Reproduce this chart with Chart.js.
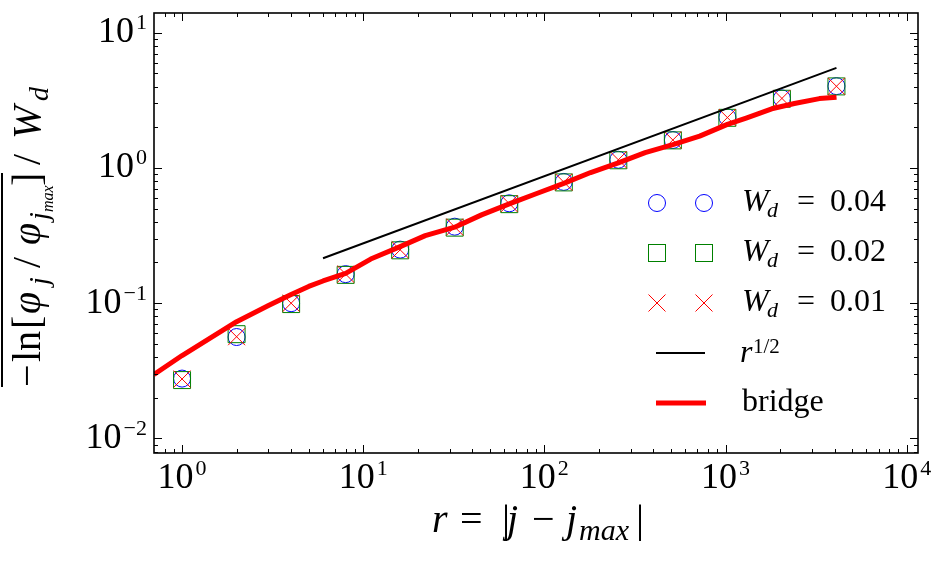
<!DOCTYPE html>
<html>
<head>
<meta charset="utf-8">
<script src="https://cdn.jsdelivr.net/npm/chart.js@4/dist/chart.umd.min.js"></script>
<style>
  html, body { margin: 0; padding: 0; background: #fff; }
  .fontwarm { position: absolute; left: -9999px; top: 0; font-family: 'Liberation Serif'; }
</style>
</head>
<body>
<span class="fontwarm">10 bridge</span><span class="fontwarm" style="font-style:italic">W r j max</span>
<canvas id="chart" width="944" height="561"></canvas>
<script>
/* ===============================
   DATA
================================ */
const rValues = [1, 2, 4, 8, 16, 32, 64, 128, 256, 512, 1024, 2048, 4096];
const wd004 = [0.0277, 0.0562, 0.100, 0.164, 0.249, 0.368, 0.548, 0.789, 1.15, 1.61, 2.37, 3.27, 4.03];
const wd002 = [0.0270, 0.0590, 0.0985, 0.162, 0.246, 0.362, 0.540, 0.782, 1.14, 1.60, 2.35, 3.25, 4.01];
const wd001 = [0.0275, 0.0565, 0.100, 0.164, 0.248, 0.366, 0.545, 0.786, 1.15, 1.61, 2.36, 3.27, 4.02];

const sqrtX = [6, 4096];
const sqrtY = [0.215, 5.5];

const bridgeX = [0.7, 1, 2, 3, 4, 5, 6, 8, 11, 16, 22, 32, 45, 64, 90, 128, 180, 256, 360, 512, 720, 1024, 1300, 1800, 2400, 3300, 4100];
const bridgeY = [0.0297, 0.041, 0.073, 0.096, 0.116, 0.133, 0.146, 0.166, 0.212, 0.262, 0.316, 0.365, 0.45, 0.543, 0.645, 0.77, 0.925, 1.09, 1.30, 1.49, 1.72, 2.10, 2.34, 2.74, 3.0, 3.26, 3.33];

const xTickPowers = [0, 1, 2, 3, 4];
const yTickPowers = [-2, -1, 0, 1];
const legendLabels = ["W_d = 0.04", "W_d = 0.02", "W_d = 0.01", "r^1/2", "bridge"];

const X_MIN = 0.748, X_MAX = 11550;
const Y_MIN = 0.0078, Y_MAX = 14.0;

const FONT = "'Liberation Serif', serif";
const BLUE = "#0000ff", GREEN = "#008000", RED = "#ff0000";

const toPts = (xs, ys) => xs.map((x, i) => ({ x: x, y: ys[i] }));

/* ===============================
   TEXT HELPERS
================================ */
const fontFor = (size, it) => (it ? "italic " : "") + size + "px " + FONT;

// parts placed at fixed offsets: {t, s (size), it, at (x offset), dy}
function drawPlaced(ctx, x0, y0, parts) {
  ctx.textAlign = "left";
  ctx.textBaseline = "alphabetic";
  parts.forEach(p => {
    ctx.font = fontFor(p.s, p.it);
    ctx.fillText(p.t, x0 + p.at, y0 + (p.dy || 0));
  });
}

// "10" with a superscript exponent, aligned on its full width
function drawPow(ctx, n, x, y, align) {
  const main = "10", sup = n < 0 ? "\u2212" + (-n) : String(n);
  ctx.font = fontFor(36, false);
  const w1 = ctx.measureText(main).width;
  ctx.font = fontFor(22, false);
  const w2 = ctx.measureText(sup).width;
  const w = w1 + 2 + w2;
  let x0 = x;
  if (align === "center") x0 = x - w / 2;
  if (align === "right") x0 = x - w;
  drawPlaced(ctx, x0, y, [
    { t: main, s: 36, at: 0 },
    { t: sup, s: 22, at: w1 + 2, dy: -13 }
  ]);
}

/* ===============================
   AXES, TICKS, TITLES, LEGEND
================================ */
const framePlugin = {
  id: "frame",
  afterDraw(chart) {
    const ctx = chart.ctx;
    const a = chart.chartArea;
    const xs = chart.scales.x, ys = chart.scales.y;
    ctx.save();
    ctx.fillStyle = "#000";
    ctx.strokeStyle = "#000";

    // frame
    ctx.lineWidth = 1.6;
    ctx.strokeRect(a.left, a.top, a.right - a.left, a.bottom - a.top);

    // ticks (inward, all four sides)
    ctx.lineWidth = 1;
    const seg = (x1, y1, x2, y2) => {
      ctx.beginPath(); ctx.moveTo(x1, y1); ctx.lineTo(x2, y2); ctx.stroke();
    };
    for (let p = -1; p <= 4; p++) {
      for (let m = 1; m <= 9; m++) {
        const v = m * Math.pow(10, p);
        if (v < X_MIN || v > X_MAX) continue;
        const px = Math.round(xs.getPixelForValue(v)) + 0.5;
        const len = m === 1 ? 8 : 4;
        seg(px, a.bottom, px, a.bottom - len);
        seg(px, a.top, px, a.top + len);
      }
    }
    for (let p = -3; p <= 1; p++) {
      for (let m = 1; m <= 9; m++) {
        const v = m * Math.pow(10, p);
        if (v < Y_MIN || v > Y_MAX) continue;
        const py = Math.round(ys.getPixelForValue(v)) + 0.5;
        const len = m === 1 ? 8 : 4;
        seg(a.left, py, a.left + len, py);
        seg(a.right, py, a.right - len, py);
      }
    }

    // tick labels
    xTickPowers.forEach(n => drawPow(ctx, n, xs.getPixelForValue(Math.pow(10, n)), 488, "center"));
    yTickPowers.forEach(n => drawPow(ctx, n, a.left - 7, ys.getPixelForValue(Math.pow(10, n)) + 9.5, "right"));

    // x title: r = |j - j_max|
    drawPlaced(ctx, 432, 532, [
      { t: "r", s: 40, it: true, at: 0 },
      { t: "=", s: 40, at: 28 },
      { t: "|", s: 40, at: 70 },
      { t: "j", s: 40, it: true, at: 75 },
      { t: "\u2212", s: 40, at: 100 },
      { t: "j", s: 40, it: true, at: 134 },
      { t: "max", s: 30, it: true, at: 147, dy: 8 },
      { t: "|", s: 40, at: 204 }
    ]);

    // y title (rotated, overline on the first group)
    ctx.save();
    ctx.translate(40, 387);
    ctx.rotate(-Math.PI / 2);
    drawPlaced(ctx, 0, 0, [
      { t: "\u2212", s: 40, at: 0 },
      { t: "ln", s: 40, at: 25 },
      { t: "[", s: 40, at: 58 },
      { t: "\u03c6", s: 40, it: true, at: 73 },
      { t: "j", s: 28, it: true, at: 102, dy: 8 },
      { t: "/", s: 40, at: 119 },
      { t: "\u03c6", s: 40, it: true, at: 142 },
      { t: "j", s: 28, it: true, at: 167, dy: 8 },
      { t: "max", s: 16, it: true, at: 175, dy: 13 },
      { t: "]", s: 40, at: 201 },
      { t: "/", s: 40, at: 222 },
      { t: "W", s: 40, it: true, at: 248 },
      { t: "d", s: 28, it: true, at: 286, dy: 8 }
    ]);
    ctx.lineWidth = 2;
    seg(0, -38, 214, -38);
    ctx.restore();

    // legend
    const lx1 = 657, lx2 = 704;
    const rowY = [203, 253, 303, 353, 403];
    ctx.lineWidth = 1;
    ctx.strokeStyle = BLUE;
    [lx1, lx2].forEach(x => { ctx.beginPath(); ctx.arc(x, rowY[0], 8.5, 0, 2 * Math.PI); ctx.stroke(); });
    ctx.strokeStyle = GREEN;
    [lx1, lx2].forEach(x => ctx.strokeRect(x - 8.5, rowY[1] - 8.5, 17, 17));
    ctx.strokeStyle = RED;
    [lx1, lx2].forEach(x => {
      seg(x - 8.5, rowY[2] - 8.5, x + 8.5, rowY[2] + 8.5);
      seg(x - 8.5, rowY[2] + 8.5, x + 8.5, rowY[2] - 8.5);
    });
    ctx.strokeStyle = "#000"; ctx.lineWidth = 2;
    seg(656, rowY[3], 705, rowY[3]);
    ctx.strokeStyle = RED; ctx.lineWidth = 5;
    seg(656, rowY[4], 706, rowY[4]);

    ctx.fillStyle = "#000";
    ["0.04", "0.02", "0.01"].forEach((v, i) => {
      drawPlaced(ctx, 742, rowY[i] + 8, [
        { t: "W", s: 32, it: true, at: 0 },
        { t: "d", s: 22, it: true, at: 25, dy: 6 },
        { t: "=", s: 32, at: 55 },
        { t: v, s: 32, at: 88 }
      ]);
    });
    drawPlaced(ctx, 740, 362, [
      { t: "r", s: 32, it: true, at: 0 },
      { t: "1/2", s: 21, at: 13, dy: -9 }
    ]);
    drawPlaced(ctx, 742, 411, [{ t: "bridge", s: 32, at: 0 }]);

    ctx.restore();
  }
};

/* ===============================
   CHART
================================ */
function buildChart() {
  new Chart(document.getElementById("chart"), {
    type: "scatter",
    data: {
      datasets: [
        {
          label: legendLabels[0],
          data: toPts(rValues, wd004),
          pointStyle: "circle", pointRadius: 8.5, pointBorderWidth: 1,
          pointBorderColor: BLUE, pointBackgroundColor: "rgba(0,0,0,0)",
          order: 5
        },
        {
          label: legendLabels[1],
          data: toPts(rValues, wd002),
          pointStyle: "rect", pointRadius: 12, pointBorderWidth: 1,
          pointBorderColor: GREEN, pointBackgroundColor: "rgba(0,0,0,0)",
          order: 4
        },
        {
          label: legendLabels[2],
          data: toPts(rValues, wd001),
          pointStyle: "crossRot", pointRadius: 12, pointBorderWidth: 1,
          pointBorderColor: RED, pointBackgroundColor: "rgba(0,0,0,0)",
          order: 3
        },
        {
          label: legendLabels[3],
          data: toPts(sqrtX, sqrtY),
          showLine: true, borderColor: "#000", borderWidth: 2, pointRadius: 0,
          order: 2
        },
        {
          label: legendLabels[4],
          data: toPts(bridgeX, bridgeY),
          showLine: true, borderColor: RED, borderWidth: 5, pointRadius: 0,
          borderJoinStyle: "round", clip: 0,
          order: 1
        }
      ]
    },
    options: {
      responsive: false,
      animation: false,
      devicePixelRatio: 1,
      events: [],
      layout: { padding: { left: 154, top: 11, right: 26, bottom: 108 } },
      scales: {
        x: { type: "logarithmic", min: X_MIN, max: X_MAX, display: false },
        y: { type: "logarithmic", min: Y_MIN, max: Y_MAX, display: false }
      },
      plugins: {
        legend: { display: false },
        tooltip: { enabled: false }
      }
    },
    plugins: [framePlugin]
  });
}

Promise.all([
  document.fonts.load("36px 'Liberation Serif'"),
  document.fonts.load("italic 36px 'Liberation Serif'")
]).then(buildChart, buildChart);
</script>
</body>
</html>
